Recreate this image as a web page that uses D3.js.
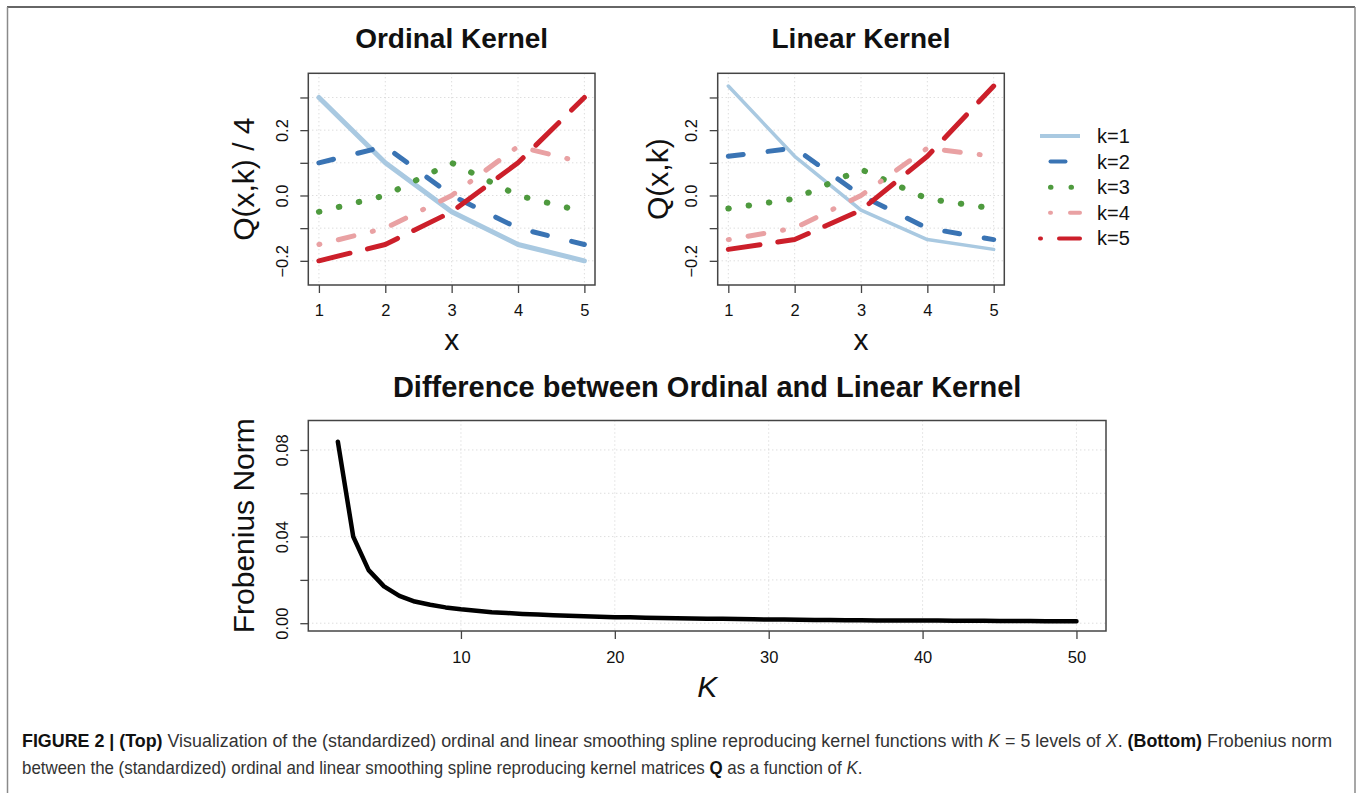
<!DOCTYPE html>
<html>
<head>
<meta charset="utf-8">
<script src="https://cdn.jsdelivr.net/npm/d3@7"></script>
<style>
  html, body { margin: 0; padding: 0; background: #fff; }
  svg { display: block; }
  text { font-family: "Liberation Sans", Arial, Helvetica, sans-serif; fill: #111; }
</style>
</head>
<body>
<svg id="chart" width="1357" height="793"></svg>
<script>
// ---------------- DATA ----------------
const xLevels = [1, 2, 3, 4, 5];
const seriesNames = ["k=1", "k=2", "k=3", "k=4", "k=5"];

// Ordinal kernel, Q(x,k)/4
const ordinalK1 = [0.30, 0.10, -0.05, -0.15, -0.20];
const ordinalK2 = [0.10, 0.15, 0.00, -0.10, -0.15];
const ordinalK3 = [-0.05, 0.00, 0.10, 0.00, -0.05];
const ordinalK4 = [-0.15, -0.10, 0.00, 0.15, 0.10];
const ordinalK5 = [-0.20, -0.15, -0.05, 0.10, 0.30];

// Linear kernel, Q(x,k)
const linearK1 = [0.335, 0.12, -0.045, -0.135, -0.165];
const linearK2 = [0.12, 0.145, 0.00, -0.10, -0.135];
const linearK3 = [-0.04, -0.01, 0.08, -0.01, -0.04];
const linearK4 = [-0.135, -0.10, 0.00, 0.145, 0.12];
const linearK5 = [-0.165, -0.135, -0.045, 0.12, 0.335];

const topYTicks = [-0.2, -0.1, 0.0, 0.1, 0.2, 0.3];
const topYLabels = ["−0.2", "", "0.0", "", "0.2", ""];
const topYLim = [-0.25, 0.35];

// Frobenius norm difference vs K
const kValues = [2,3,4,5,6,7,8,9,10,11,12,13,14,15,16,17,18,19,20,21,22,23,24,25,26,
                 27,28,29,30,31,32,33,34,35,36,37,38,39,40,41,42,43,44,45,46,47,48,49,50];
const frobNorm = [0.0838,0.0400,0.0245,0.0170,0.0126,0.0100,0.0085,0.0073,0.0064,0.0057,
                  0.0051,0.0047,0.0043,0.0040,0.0037,0.0034,0.0032,0.0030,0.0028,0.0027,
                  0.0025,0.0024,0.0023,0.0022,0.0021,0.0020,0.0019,0.0018,0.0017,0.0017,
                  0.0016,0.0015,0.0015,0.0014,0.0014,0.0013,0.0013,0.0012,0.0012,0.0012,
                  0.0011,0.0011,0.0011,0.0010,0.0010,0.0010,0.0009,0.0009,0.0009];
const bottomXTicks = [10, 20, 30, 40, 50];
const bottomYTicks = [0.00, 0.02, 0.04, 0.06, 0.08];
const bottomYLabels = ["0.00", "", "0.04", "", "0.08"];
const bottomYLim = [0, 0.09];

// ---------------- STYLE ----------------
const colors = ["#a9c9e1", "#3a74b4", "#4e9a3e", "#e9a1a3", "#cc1f2a"];
const dashes = ["none", "15 25", "0.5 20", "1 19 16 19", "32 18"];
const legendOffsets = [0, 29.5, 10, 45, 31];

const svg = d3.select("#chart");
svg.append("rect").attr("width", 1357).attr("height", 793).attr("fill", "#fff");

// outer frame
svg.append("line").attr("x1", 7).attr("x2", 1355).attr("y1", 7).attr("y2", 7)
  .attr("stroke", "#333").attr("stroke-width", 1.5);
svg.append("line").attr("x1", 7.5).attr("x2", 7.5).attr("y1", 7).attr("y2", 793)
  .attr("stroke", "#8a8a8a").attr("stroke-width", 1.5);
svg.append("line").attr("x1", 1355).attr("x2", 1355).attr("y1", 7).attr("y2", 793)
  .attr("stroke", "#8a8a8a").attr("stroke-width", 1.5);

function ext(lim) { const d = (lim[1] - lim[0]) * 0.04; return [lim[0] - d, lim[1] + d]; }

function panel(opt) {
  const x = d3.scaleLinear().domain(ext(opt.xlim)).range([opt.left, opt.right]);
  const y = d3.scaleLinear().domain(ext(opt.ylim)).range([opt.bottom, opt.top]);
  const g = svg.append("g");
  // grid
  g.selectAll(".gx").data(opt.xTicks).enter().append("line")
    .attr("x1", d => x(d)).attr("x2", d => x(d)).attr("y1", opt.top).attr("y2", opt.bottom)
    .attr("stroke", "#cfcfcf").attr("stroke-width", 1).attr("stroke-dasharray", "1 3");
  g.selectAll(".gy").data(opt.yTicks).enter().append("line")
    .attr("y1", d => y(d)).attr("y2", d => y(d)).attr("x1", opt.left).attr("x2", opt.right)
    .attr("stroke", "#cfcfcf").attr("stroke-width", 1).attr("stroke-dasharray", "1 3");
  // axes
  const xAxis = d3.axisBottom(x).tickValues(opt.xTicks).tickSize(8).tickPadding(6)
    .tickFormat(d => String(d));
  const gx = g.append("g").attr("transform", `translate(0,${opt.bottom})`).call(xAxis);
  gx.select(".domain").remove();
  gx.selectAll(".tick line").attr("stroke", "#444").attr("stroke-width", 1.3);
  gx.selectAll(".tick text").attr("font-size", 16.5).attr("fill", "#111")
    .attr("font-family", "'Liberation Sans', Arial, sans-serif")
    .attr("dy", null).attr("y", opt.xLabelBaseline - opt.bottom);
  const yAxis = d3.axisLeft(y).tickValues(opt.yTicks).tickSize(8)
    .tickFormat((d, i) => opt.yLabels[i]);
  const gy = g.append("g").attr("transform", `translate(${opt.left},0)`).call(yAxis);
  gy.select(".domain").remove();
  gy.selectAll(".tick line").attr("stroke", "#444").attr("stroke-width", 1.3);
  gy.selectAll(".tick text").attr("font-size", 16.5).attr("fill", "#111")
    .attr("font-family", "'Liberation Sans', Arial, sans-serif")
    .attr("text-anchor", "middle").attr("dy", null).attr("x", null)
    .attr("transform", `translate(${opt.yLabelBaseline - opt.left},0) rotate(-90)`);
  // box
  g.append("rect").attr("x", opt.left).attr("y", opt.top)
    .attr("width", opt.right - opt.left).attr("height", opt.bottom - opt.top)
    .attr("fill", "none").attr("stroke", "#444").attr("stroke-width", 1.5);
  // title
  svg.append("text").attr("x", (opt.left + opt.right) / 2).attr("y", opt.titleY)
    .attr("text-anchor", "middle").attr("font-size", opt.titleSize).attr("font-weight", "bold")
    .text(opt.title);
  // x label
  const xl = svg.append("text").attr("x", (opt.left + opt.right) / 2).attr("y", opt.xTitleY)
    .attr("text-anchor", "middle").attr("font-size", 30).text(opt.xTitle);
  if (opt.xItalic) xl.attr("font-style", "italic");
  // y label
  const cy = (opt.top + opt.bottom) / 2;
  svg.append("text").attr("transform", `translate(${opt.yTitleX},${cy}) rotate(-90)`)
    .attr("text-anchor", "middle").attr("font-size", 30).text(opt.yTitle);
  return { x, y, g };
}

const ordinal = [ordinalK1, ordinalK2, ordinalK3, ordinalK4, ordinalK5];
const linear = [linearK1, linearK2, linearK3, linearK4, linearK5];

function drawKernel(p, data, k1Width) {
  data.forEach((vals, i) => {
    const line = d3.line().x((d, j) => p.x(xLevels[j])).y(d => p.y(d));
    p.g.append("path").attr("d", line(vals)).attr("fill", "none")
      .attr("stroke", colors[i]).attr("stroke-width", i === 0 ? k1Width : (i === 2 ? 6 : 5))
      .attr("stroke-linecap", "round").attr("stroke-linejoin", "round")
      .attr("stroke-dasharray", dashes[i]);
  });
}

// ---------- top-left: Ordinal ----------
const pL = panel({
  left: 308.3, right: 595, top: 73.3, bottom: 285,
  xlim: [1, 5], ylim: topYLim, xTicks: xLevels, yTicks: topYTicks, yLabels: topYLabels,
  xLabelBaseline: 316, yLabelBaseline: 287.6,
  title: "Ordinal Kernel", titleY: 48, titleSize: 28,
  xTitle: "x", xTitleY: 349.5, yTitle: "Q(x,k) / 4", yTitleX: 254
});
drawKernel(pL, ordinal, 5);

// ---------- top-right: Linear ----------
const pR = panel({
  left: 717.7, right: 1004.3, top: 73.3, bottom: 285,
  xlim: [1, 5], ylim: topYLim, xTicks: xLevels, yTicks: topYTicks, yLabels: topYLabels,
  xLabelBaseline: 316, yLabelBaseline: 696.5,
  title: "Linear Kernel", titleY: 48, titleSize: 28,
  xTitle: "x", xTitleY: 349.5, yTitle: "Q(x,k)", yTitleX: 667.5
});
drawKernel(pR, linear, 3.5);

// ---------- legend ----------
const legend = svg.append("g");
seriesNames.forEach((name, i) => {
  const ly = 136 + i * 25.6;
  legend.append("line").attr("x1", 1040).attr("x2", 1080).attr("y1", ly).attr("y2", ly)
    .attr("stroke", colors[i]).attr("stroke-width", i === 2 ? 5 : 4)
    .attr("stroke-linecap", i === 0 ? "butt" : "round")
    .attr("stroke-dasharray", dashes[i]).attr("stroke-dashoffset", legendOffsets[i]);
  legend.append("text").attr("x", 1097).attr("y", ly + 7).attr("font-size", 20).text(name);
});

// ---------- bottom ----------
const pB = panel({
  left: 308.3, right: 1106, top: 420.5, bottom: 631,
  xlim: [2, 50], ylim: bottomYLim, xTicks: bottomXTicks, yTicks: bottomYTicks, yLabels: bottomYLabels,
  xLabelBaseline: 663, yLabelBaseline: 287.6,
  title: "Difference between Ordinal and Linear Kernel", titleY: 397, titleSize: 29,
  xTitle: "K", xTitleY: 697, xItalic: true, yTitle: "Frobenius Norm", yTitleX: 254
});
const fLine = d3.line().x((d, i) => pB.x(kValues[i])).y(d => pB.y(d));
pB.g.append("path").attr("d", fLine(frobNorm)).attr("fill", "none")
  .attr("stroke", "#000").attr("stroke-width", 4.5)
  .attr("stroke-linejoin", "round").attr("stroke-linecap", "round");

// ---------- caption ----------
const capFont = "'Liberation Sans Narrow', 'Arial Narrow', 'Liberation Sans', Arial, sans-serif";
const cap1 = svg.append("text").attr("x", 0).attr("y", 0).attr("font-size", 18)
  .attr("font-family", capFont);
cap1.append("tspan").attr("font-weight", "bold").style("fill", "#111").text("FIGURE 2 | (Top) ");
cap1.append("tspan").style("fill", "#333").text("Visualization of the (standardized) ordinal and linear smoothing spline reproducing kernel functions with ");
cap1.append("tspan").attr("font-style", "italic").style("fill", "#333").text("K");
cap1.append("tspan").style("fill", "#333").text(" = 5 levels of ");
cap1.append("tspan").attr("font-style", "italic").style("fill", "#333").text("X");
cap1.append("tspan").style("fill", "#333").text(". ");
cap1.append("tspan").attr("font-weight", "bold").style("fill", "#111").text("(Bottom)");
cap1.append("tspan").style("fill", "#333").text(" Frobenius norm");

const cap2 = svg.append("text").attr("x", 0).attr("y", 0).attr("font-size", 18)
  .attr("font-family", capFont);
cap2.append("tspan").style("fill", "#333").text("between the (standardized) ordinal and linear smoothing spline reproducing kernel matrices ");
cap2.append("tspan").attr("font-weight", "bold").style("fill", "#111").text("Q");
cap2.append("tspan").style("fill", "#333").text(" as a function of ");
cap2.append("tspan").attr("font-style", "italic").style("fill", "#333").text("K");
cap2.append("tspan").style("fill", "#333").text(".");

const len1 = cap1.node().getComputedTextLength();
const len2 = cap2.node().getComputedTextLength();
cap1.attr("transform", `translate(22,747) scale(${1311 / len1},1)`);
cap2.attr("transform", `translate(22,774) scale(${841 / len2},1)`);
</script>
</body>
</html>
